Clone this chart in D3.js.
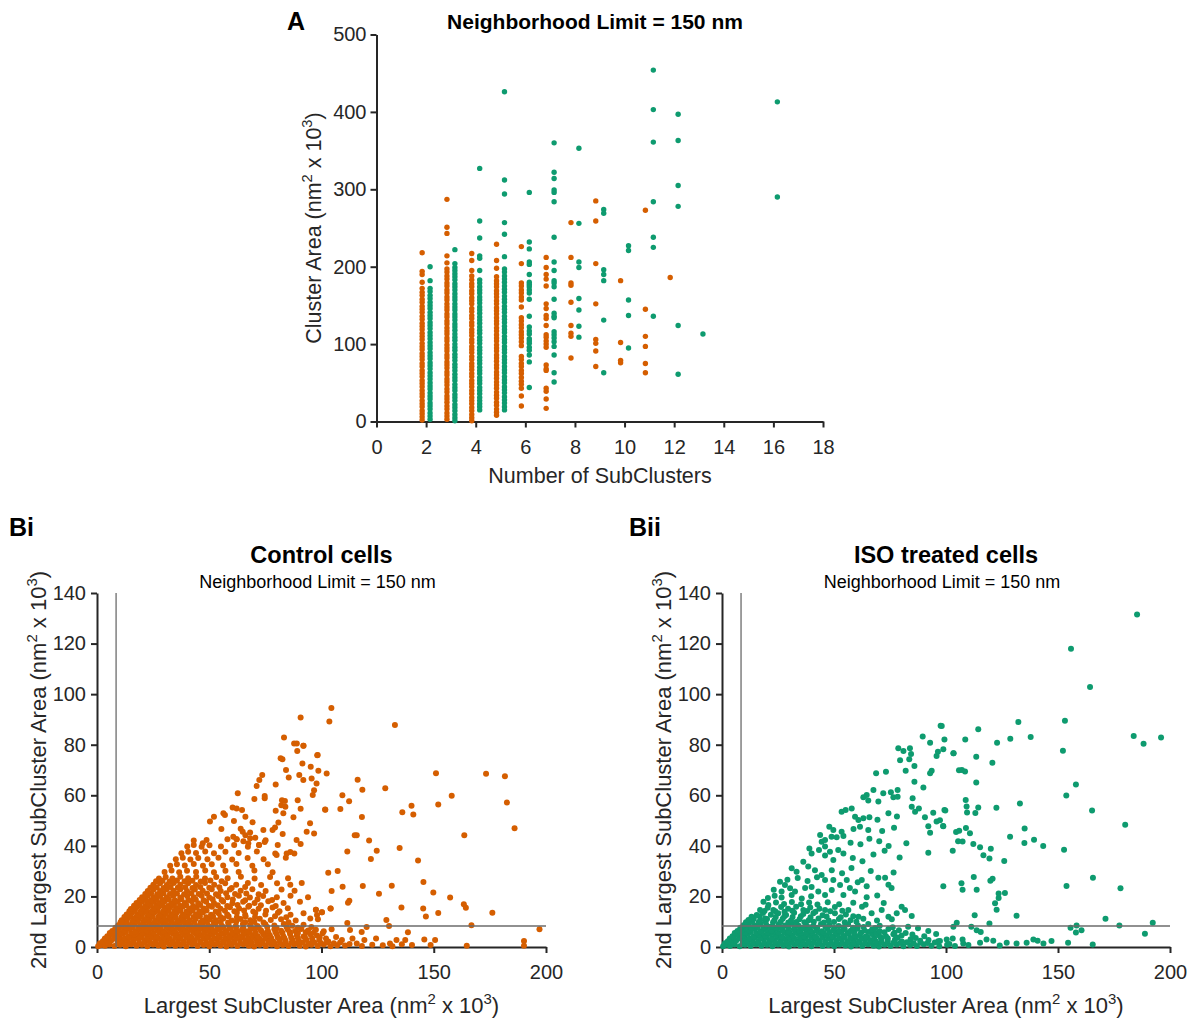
<!DOCTYPE html>
<html><head><meta charset="utf-8">
<script src="https://cdn.jsdelivr.net/npm/d3@7"></script>
<style>body{margin:0;background:#fff}svg{display:block}</style>
</head><body>
<svg id="chart" width="1188" height="1021"></svg>
<script>
// ---------------- DATA ----------------
const subclusterTicks = [0,2,4,6,8,10,12,14,16,18];
const clusterAreaTicks = [0,100,200,300,400,500];
// Panel A: [number of subclusters, cluster areas (nm^2 x 10^3)]
const controlClusterArea = [
 [2,[218,194,190,180,172,167,163,158,154,149,145,141,136,132,127,123,119,114,110,106,101,97,93,88,84,80,75,71,66,62,58,53,49,45,40,36,32,27,23,19,14,10,6,2]],
 [3,[287,251,243,214,205,197,193,188,184,179,175,170,166,161,157,152,148,144,139,135,130,126,121,117,113,108,104,99,95,91,86,82,77,73,69,64,60,55,51,47,42,38,33,29,25,20,16,11,7,3]],
 [4,[217,208,195,188,183,178,174,169,165,160,156,152,146,142,137,133,128,124,119,115,111,106,102,97,93,89,84,80,75,71,67,62,58,53,49,45,40,36,31,27,23,18,14,9,5,1]],
 [5,[229,208,198,187,182,178,174,169,165,161,156,152,147,143,139,134,130,126,121,117,112,108,104,99,95,91,86,82,78,73,69,64,60,56,51,47,43,38,34,30,25,21,16,12,8]],
 [6,[226,204,179,175,170,166,161,157,148,134,130,125,121,116,112,108,103,98,84,80,75,71,66,62,57,52,48,43,33,20]],
 [7,[212,199,190,184,175,152,146,137,133,124,112,109,104,100,96,73,68,66,43,39,29,17]],
 [8,[257,212,179,176,154,124,114,110,82]],
 [9,[285,259,204,152,106,101,91,71]],
 [10,[182,102,79,76]],
 [11,[273,145,110,97,75,63]],
 [12,[186]]
];
const isoClusterArea = [
 [2,[200,182,172,168,163,159,154,150,146,141,137,133,128,124,120,115,111,107,102,98,94,89,85,81,76,72,68,63,59,55,50,46,42,37,33,29,24,20,16,11,7,3]],
 [3,[222,204,199,195,191,187,183,178,174,170,165,161,157,152,148,144,139,135,131,126,122,118,113,109,105,100,96,92,87,83,79,74,70,66,61,57,53,48,44,40,35,31,27,22,18,14,9,5,1]],
 [4,[327,259,237,214,211,195,183,179,174,170,166,161,157,153,148,144,140,135,131,127,122,118,114,109,105,101,96,92,88,83,79,75,70,66,62,57,53,49,44,40,36,31,27,23,19,15]],
 [5,[426,312,294,257,242,213,197,193,188,184,180,175,171,167,162,158,154,149,145,141,136,132,128,123,119,115,110,106,102,97,93,89,84,80,76,71,67,63,58,54,50,45,41,37,32,28,24,19,15]],
 [6,[296,232,223,206,203,190,180,177,174,170,166,158,136,122,117,113,107,104,101,96,92,86,77,44]],
 [7,[360,322,314,299,296,284,238,206,195,182,179,174,158,140,136,134,116,112,108,103,97,86,63,51]],
 [8,[353,256,206,199,159,144,123,109]],
 [9,[274,269,196,190,182,131,63]],
 [10,[227,221,157,137,95]],
 [11,[454,403,361,284,238,225,136]],
 [12,[397,363,305,278,124,61]],
 [13,[113]],
 [16,[413,290]]
];

const largestTicks = [0,50,100,150,200];
const secondTicks = [0,20,40,60,80,100,120,140];
const thresholdLargest = 8.5;
const thresholdSecond = 8.3;

// Panel Bi: [largest subcluster area, 2nd largest subcluster area]
const controlSubclusterAreas = [
 [0.5,0.3],[2,0.8],[3.6,0.5],[5.5,1],[7.8,0.4],[10.3,0.9],[12.8,0.3],[15.2,1.1],[17.6,0.5],[20,0.9],[22.4,0.3],[25,1],[27.3,0.6],[29.8,0.2],[32.4,1],[34.9,0.5],[37.2,0.9],[39.8,0.3],[42.3,1.1],[44.8,0.4],[47.5,0.8],[50,0.3],[52.4,1],[55,0.6],[57.6,0.2],[60,0.9],[62.5,0.4],[65.2,1.1],[67.6,0.5],[70,0.2],[72.5,0.9],[75.2,0.4],[77.8,1],[80.2,0.3],[82.8,0.8],[85.3,0.4],[87.8,1.1],[90.3,0.5],[93,0.2],[95.5,0.9],[98.3,0.4],[101,1],[104,0.3],[107,0.7],
 [1.3,1.5],[4.8,1.7],[9.2,1.6],[11.6,1.8],[14,1.5],[16.4,1.7],[18.8,1.6],[21.2,1.9],[23.8,1.5],[26.2,1.7],[28.6,1.6],[31.1,1.8],[33.7,1.5],[36,1.7],[38.5,1.6],[41,1.9],[43.5,1.5],[46.1,1.7],[48.7,1.6],[51.2,1.8],[53.7,1.5],[56.3,1.7],[58.8,1.6],[61.3,1.9],[63.8,1.5],[66.4,1.7],[68.9,1.6],[71.3,1.8],[73.9,1.5],[76.5,1.7],[79,1.6],[81.5,1.9],[84.1,1.5],[86.6,1.7],[89.1,1.6],[91.7,1.8],[94.3,1.5],[97,1.7],[99.7,1.6],[102.4,1.8],[105.5,1.5],
 [2.6,2.3],[4.2,3],[6.3,2.5],[8.7,3.1],[11,2.4],[13.6,2.9],[16,2.2],[18.6,3.2],[21.1,2.6],[23.5,2.2],[26.1,3],[28.6,2.5],[31,3.2],[33.5,2.3],[36.1,2.8],[38.6,2.2],[41,3.1],[43.6,2.6],[46.1,2.2],[48.5,3],[51,2.5],[53.6,3.2],[56.1,2.3],[58.6,2.8],[61,2.2],[63.5,3.1],[66.1,2.6],[68.6,2.3],[71.1,3],[73.6,2.4],[76.1,2.9],[78.6,2.2],[81.2,3.1],[84,2.5],[87.1,2.8],[90,2.3],[93.2,3],[96.1,2.4],[99,2.9],[103,2.2],
 [3.5,3.4],[5.2,3.8],[7.6,3.6],[9.9,3.9],[12.3,3.5],[14.8,3.8],[17.3,3.6],[19.8,3.9],[22.3,3.5],[24.8,3.8],[27.3,3.6],[29.8,3.9],[32.3,3.5],[34.8,3.8],[37.3,3.6],[39.8,3.9],[42.3,3.5],[44.8,3.8],[47.3,3.6],[49.8,3.9],[52.3,3.5],[54.8,3.8],[57.3,3.6],[59.8,3.9],[62.3,3.5],[64.8,3.8],[67.3,3.6],[69.8,3.9],[72.3,3.5],[74.9,3.8],[77.6,3.6],[80.5,3.9],[83.5,3.5],[86.5,3.8],[89.5,3.6],[92.6,3.9],[95.8,3.5],[99.2,3.8],[102,3.4],
 [4.6,4.3],[6.7,5],[9,4.5],[11.6,5.2],[14,4.2],[16.5,4.9],[19.1,4.4],[21.6,5.1],[24,4.6],[26.6,4.2],[29.1,5],[31.5,4.5],[34,5.2],[36.5,4.3],[39.1,4.8],[41.6,4.2],[44,5.1],[46.6,4.6],[49,4.3],[51.5,5],[54.1,4.4],[56.5,5.2],[59,4.5],[61.6,4.9],[64,4.2],[66.6,5.1],[69.1,4.6],[71.6,4.3],[74.2,5],[77,4.5],[80.1,4.9],[83,4.3],[86,5.1],[89,4.6],[92,4.2],[95,5],[98,4.5],
 [5.7,5.5],[8,5.8],[10.4,5.6],[12.9,5.9],[15.3,5.5],[17.8,5.8],[20.3,5.6],[22.8,5.9],[25.3,5.5],[27.8,5.8],[30.3,5.6],[32.8,5.9],[35.3,5.5],[37.8,5.8],[40.3,5.6],[42.8,5.9],[45.3,5.5],[47.8,5.8],[50.3,5.6],[52.8,5.9],[55.3,5.5],[57.8,5.8],[60.3,5.6],[62.8,5.9],[65.4,5.5],[68,5.8],[70.7,5.6],[73.5,5.9],[76.4,5.5],[79.5,5.8],[82.6,5.6],[85.8,5.9],[89.5,5.5],[93,5.8],[96.5,5.6],[100.5,5.4],
 [6.8,6.3],[9.5,7],[12.1,6.5],[14.5,7.2],[17,6.2],[19.6,6.9],[22,6.4],[24.5,7.1],[27.1,6.6],[29.5,6.2],[32,7],[34.6,6.5],[37,7.2],[39.5,6.3],[42.1,6.8],[44.6,6.2],[47,7.1],[49.6,6.6],[52,6.3],[54.5,7],[57.1,6.4],[59.6,7.2],[62,6.5],[64.6,6.9],[67.1,6.2],[70,7.1],[73,6.6],[76.1,6.3],[79,7],[82,6.4],[85,6.9],[88.2,6.3],[91,7.1],[94,6.5],[97.5,6.8],[101,6.2],[104.5,7],
 [8.2,7.6],[10.8,7.9],[13.3,7.5],[15.8,7.8],[18.3,7.6],[20.8,7.9],[23.3,7.5],[25.8,7.8],[28.3,7.6],[30.8,7.9],[33.3,7.5],[35.8,7.8],[38.3,7.6],[40.8,7.9],[43.3,7.5],[45.8,7.8],[48.4,7.6],[51,7.9],[53.6,7.5],[56.3,7.8],[59,7.6],[62,7.9],[65.2,7.5],[68.5,7.8],[72,7.6],[75.8,7.9],[80,7.5],[84.5,7.8],[89.5,7.6],[95.5,7.9],
 [9.5,8.6],[11.8,9.1],[14.3,8.4],[16.8,9.2],[19.3,8.6],[21.8,8.3],[24.3,9],[26.8,8.5],[29.4,9.2],[31.8,8.4],[34.4,8.9],[36.9,8.3],[39.3,9.1],[41.8,8.6],[44.4,8.3],[47,9],[49.5,8.5],[52.8,9.2],[55.6,8.4],[58.6,8.9],[61.8,8.3],[65,9.1],[68.2,8.6],[71.5,8.3],[75,9],[79,8.5],[83.2,9.1],[87,8.4],[92,8.8],
 [10.5,9.8],[13,9.9],[15.6,9.7],[18.1,10],[20.6,9.8],[23.1,9.9],[25.6,9.7],[28.1,10],[30.6,9.8],[33.1,9.9],[35.6,9.7],[38.1,10],[40.6,9.8],[43.3,9.9],[46.1,9.7],[49,10],[52,9.8],[55.1,9.9],[58.4,9.7],[62,10],[66,9.8],[70.1,9.9],[74.2,9.7],[85.3,9.8],
 [11,10.6],[13.5,11.2],[16,10.5],[18.6,11.1],[21,10.7],[23.6,11.3],[26,10.5],[28.6,11],[31,10.6],[33.6,11.3],[36,10.5],[38.6,11.1],[41.2,10.6],[44,11.2],[47,10.5],[50.2,11],[53,10.6],[56.3,11.3],[60,10.5],[64,11.1],[68.3,10.6],[72.5,11.2],[77.4,10.7],[82,11],[88.5,10.5],[95,11.3],
 [12.2,11.9],[14.8,12.1],[17.3,11.8],[19.8,12.1],[22.3,11.9],[24.8,12.2],[27.3,11.8],[29.8,12.1],[32.3,11.9],[34.9,12.2],[37.5,11.8],[40.2,12.1],[43,11.9],[45.8,12.2],[48.7,11.8],[51.7,12.1],[55,11.9],[58.6,12.2],[62.3,11.8],[66.2,12.1],[70.4,11.9],[79.3,12.2],[84.3,11.8],
 [13.2,12.9],[15.6,13.5],[18,12.8],[20.6,13.4],[23,12.9],[25.6,13.6],[28,12.8],[30.6,13.3],[33.1,12.9],[35.6,13.6],[38.2,12.8],[41,13.3],[44.1,12.9],[47.2,13.6],[50.8,12.8],[54.2,13.3],[58,12.9],[62.3,13.5],[66,12.8],[70.5,13.4],[75,12.9],[80.6,13.5],[86.2,12.8],[92,13.3],[98,12.7],
 [14.4,14.1],[16.9,14.3],[19.4,14],[21.9,14.3],[24.4,14.1],[26.9,14.4],[29.4,14],[31.9,14.3],[34.5,14.1],[37.1,14.4],[39.8,14],[42.6,14.3],[45.6,14.1],[48.8,14.4],[52.9,14],[57,14.3],[61.2,14.1],[65.5,14.4],[69.6,14],[75.3,14.3],[81.3,14.1],
 [15.1,15],[17.6,15.7],[20.1,15.1],[22.6,15.8],[25.1,15.2],[27.6,15.9],[30.1,15.1],[32.6,15.7],[35.2,15.2],[38.1,15.9],[41.1,15.1],[44.2,15.6],[47.6,15.2],[51.2,15.9],[55,15.1],[59.2,15.7],[63.3,15.2],[67.4,15.9],[72,15.1],[78.2,15.6],[85,15.3],[97.5,14.7],[100.2,13.7],[104,15.2],
 [16.5,16.3],[19,16.5],[21.5,16.2],[24,16.6],[26.5,16.3],[29,16.5],[31.6,16.2],[34.3,16.6],[37,16.3],[39.8,16.5],[42.8,16.2],[46,16.6],[49.8,16.3],[53.8,16.5],[58,16.2],[62.6,16.6],[67.8,16.3],[73,16.5],[79.6,16.2],
 [17.6,17.4],[20.1,18],[22.6,17.3],[25.2,18],[27.6,17.4],[30.2,18.1],[33.1,17.3],[36,17.9],[39.1,17.4],[42.2,18.1],[45.1,17.3],[48.6,17.9],[52.1,17.4],[56.2,18],[60.3,17.3],[65.1,17.9],[70.2,17.4],[76.3,18.1],[83.1,17.4],[90.4,17.9],
 [19,18.6],[21.5,18.8],[24,18.5],[26.6,18.9],[29.3,18.6],[32,18.8],[34.7,18.5],[37.6,18.9],[40.7,18.6],[44,18.8],[47.5,18.5],[51.5,18.9],[55.5,18.6],[60.5,18.8],[66,18.5],[71.5,18.9],[78,18.6],
 [20.1,19.7],[22.6,20.3],[25.2,19.6],[28.1,20.2],[31,19.7],[34,20.3],[37.1,19.6],[40.2,20.2],[43.1,19.7],[46.6,20.3],[50,19.6],[54.1,20.2],[58.1,19.7],[63.2,20.3],[68.1,19.6],[74,20.2],[80.1,19.7],[86.2,20.3],[94,19.7],
 [21.5,21],[24.1,21.2],[26.8,20.9],[29.6,21.3],[32.5,21],[35.6,21.2],[38.8,20.9],[42,21.3],[45.3,21],[49,21.2],[53,20.9],[57.5,21.3],[61.5,21],[66.5,21.2],[72,20.9],
 [22.6,22.1],[25.2,22.7],[28.1,22.1],[31.1,22.8],[34,22.2],[37.1,22.8],[40.1,22.1],[43.6,22.7],[47.1,22.2],[51.1,22.8],[55.1,22.1],[59.2,22.7],[64,22.2],[69.2,22.8],[75.1,22.1],[82.2,22.7],[88,22.2],
 [23.8,23.4],[26.6,23.6],[29.6,23.3],[32.8,23.7],[36,23.4],[39.3,23.6],[42.5,23.3],[46,23.7],[50,23.4],[54.5,23.6],[60,23.3],[66,23.7],
 [25.1,24.6],[28.1,25.2],[31.1,24.5],[34.2,25.3],[37.1,24.6],[40.6,25.2],[44.1,24.5],[48.1,25.3],[52.2,24.6],[57.1,25.2],[62,24.6],[67.2,25.3],[73.1,24.5],[80.2,25.2],[86.1,24.6],[91.2,25.3],
 [26.3,26],[29.2,26.2],[32.3,25.9],[35.6,26.3],[39,26],[42.5,26.2],[46.2,25.9],[50.5,26.3],[55.5,26],
 [27.6,27.1],[30.6,27.7],[33.6,27.1],[37.1,27.8],[40.6,27.2],[44.2,27.8],[48.1,27.1],[53.1,27.7],[58.2,27.2],[64.1,27.8],[70.2,27.1],[77.1,27.7],[85.1,27.2],
 [30.1,29.7],[33.2,30.3],[36.6,29.6],[40.1,30.2],[44.1,29.7],[48.2,30.3],[52.1,29.6],[57.2,30.2],[63.1,29.7],[70.1,30.3],[78.2,29.6],
 [32.6,32.1],[35.6,32.7],[39.1,32.2],[43.1,32.8],[47.2,32.1],[51.1,32.7],[56.2,32.2],[62.1,32.8],[69.2,32.1],[76.1,32.7],
 [35.1,34.7],[38.2,35.3],[41.6,34.6],[45.1,35.2],[49.2,34.7],[54.1,35.3],[60.2,34.6],[67.1,35.2],[74.2,34.7],[84.1,35.3],
 [37.6,37.1],[40.6,37.7],[44.1,37.2],[48.2,37.8],[52.1,37.1],[57.2,37.7],[63.1,37.2],[71.2,37.8],[79.4,37],[86.1,37.6],[87.9,37],
 [40.2,39.7],[43.1,40.3],[46.6,39.6],[50.1,40.2],[55.2,39.7],[61.1,40.3],[67.2,39.6],[72.2,40.3],[80.5,40.3],
 [43.1,42.1],[47.1,41],[48.8,42.3],[58.1,42.6],[62.2,42.6],[65.2,41.8],[75.1,42.2],[88.9,42.3],[90.7,40.7],[74.7,41.5],
 [90.7,90.8],[103.5,89.2],[104.4,94.5],[83.3,82.9],[87.8,80.5],[89,80.5],[91.9,79.6],[89.2,77.5],[81.8,74.6],[82.6,74.3],[98.3,75.9],[91.5,72.6],[95.2,71.3],[84.2,70],[98.6,69.7],[90.1,68],[85.4,67],[95.6,66.6],[73.6,68],[72.3,66],[71.1,63.7],[79.6,64.3],[91.9,66],[97.8,64.7],[96.7,62],[96.1,60.1],[62.7,60.8],[74.7,59.7],[74.7,58.8],[70.1,58.5],[82.4,58],[83.7,57.7],[89.4,58],[101.6,54.4],[60.4,55.2],[62.2,54.8],[64.6,54.2],[66.1,51.5],[56.3,52.9],[57,52.2],[52.1,51.5],[50.3,49.6],[61,49.8],[69.3,49.3],[79.6,53.9],[83,52.9],[87.5,51.3],[90.7,54.7],[83.9,55.5],[82.1,56.1],[80.8,49.2],[79.3,47.3],[78.2,46.3],[55.4,46.7],[64,46.8],[64.9,45.6],[68.2,45.3],[94.9,48.9],[96.7,44.9],[93.4,45.6],[74.1,46.3],[82.7,44.7],[70.5,43.2],[68.2,43],[67.4,41],[60.7,43.6],[62.2,42.6],[66.1,44.2],[84.5,37],[80,36.4],[72.2,40.3],
 [132.7,87.8],[92,79.6],[98.1,75.8],[102.3,68.6],[116.1,66.1],[151,68.7],[173.3,68.5],[181.7,67.5],[118.2,62.2],[128.4,62.8],[109.3,60],[112.3,57.6],[108.4,54.6],[101.7,54.3],[158,59.8],[152,56.4],[182.6,57.1],[140.1,55.9],[136,53.3],[140.9,52.4],[118,51.4],[186,47],[163.6,44.2],[114.8,44.2],[115.7,44.2],[121.2,42.1],[134.8,39.2],[124.6,38.1],[122,34.8],[111.5,37.8],[143,34.2],[103,29.4],[107.2,30.1],[145.4,25.7],[149.8,21.6],[157.3,19.6],[109.4,23.8],[104.5,22.1],[118.4,24.1],[131.3,24.2],[125.6,21.1],[112.4,18.3],[111.8,17.5],[135.6,15.6],[145.3,15.2],[146.5,12.1],[152,13.4],[163.4,16.9],[164.3,15.5],[176.1,13.5],[104.1,15.2],[100.2,13.7],[98.4,11],[97.5,14.7],[166.8,8.6],[197.1,7],[128.9,10.7],[130.1,8.3],[111.5,9.5],[112.7,6.7],[120.1,7.9],[117.9,5.9],[138.5,5.8],
 [109.1,2.8],[113.8,3.4],[115.7,1.4],[119.1,2.8],[124.3,3.4],[130.5,1.4],[133.4,2.8],[137.3,2.8],[140.3,0.8],[145.8,3],[148.6,0.8],[150.6,2.8],[164.7,0.5],[190.2,2.4],[190.2,0.5],[110.5,0.6],[112.5,1.2],[118,0.4],[122.6,0.9],[127.3,0.7],[131.6,0.3],[135.8,1.1],[106.5,4],[108.3,1.8]
];

// Panel Bii: [largest subcluster area, 2nd largest subcluster area]
const isoSubclusterAreas = [
 [0.5,0.3],[2,0.9],[3.6,0.4],[5.6,1],[7.9,0.3],[10.3,0.9],[12.8,0.4],[15.3,1.1],[17.6,0.5],[20.1,0.9],[22.5,0.3],[25,1],[27.4,0.6],[29.9,0.2],[32.4,1],[35,0.5],[37.3,0.9],[39.9,0.3],[42.4,1.1],[44.9,0.4],[47.5,0.8],[50.1,0.3],[52.5,1],[55.1,0.6],[57.6,0.2],[60.1,0.9],[62.6,0.4],[65.2,1.1],[67.7,0.5],[70.1,0.2],[72.6,0.9],[75.3,0.4],[78,1],[81,0.3],[84,0.8],[87,0.4],[90.1,1.1],[93.5,0.5],[97,0.3],[100.5,0.9],[104,0.4],
 [1.3,1.5],[4.8,1.7],[9.2,1.6],[11.6,1.8],[14,1.5],[16.4,1.7],[18.8,1.6],[21.2,1.9],[23.8,1.5],[26.2,1.7],[28.6,1.6],[31.1,1.8],[33.7,1.5],[36,1.7],[38.5,1.6],[41,1.9],[43.5,1.5],[46.1,1.7],[48.7,1.6],[51.2,1.8],[53.7,1.5],[56.3,1.7],[58.8,1.6],[61.3,1.9],[63.8,1.5],[66.4,1.7],[68.9,1.6],[71.3,1.8],[73.9,1.5],[76.5,1.7],[79.5,1.6],[82.5,1.9],[85.6,1.5],[88.6,1.7],[91.8,1.6],[95,1.8],
 [2.6,2.3],[4.3,3],[6.3,2.5],[8.8,3.1],[11.1,2.4],[13.6,2.9],[16.1,2.2],[18.6,3.2],[21.1,2.6],[23.6,2.2],[26.1,3],[28.6,2.5],[31.1,3.2],[33.6,2.3],[36.1,2.8],[38.6,2.2],[41.1,3.1],[43.6,2.6],[46.1,2.2],[48.6,3],[51.1,2.5],[53.6,3.2],[56.1,2.3],[58.6,2.8],[61.1,2.2],[63.6,3.1],[66.1,2.6],[68.7,2.3],[71.2,3],[74,2.4],[77.2,2.9],[80.3,2.2],[84.2,3.1],[88.5,2.5],[92.2,2.8],[96.5,2.3],
 [3.5,3.4],[5.2,3.8],[7.6,3.6],[9.9,3.9],[12.3,3.5],[14.8,3.8],[17.3,3.6],[19.8,3.9],[22.3,3.5],[24.8,3.8],[27.3,3.6],[29.8,3.9],[32.3,3.5],[34.8,3.8],[37.3,3.6],[39.8,3.9],[42.3,3.5],[44.8,3.8],[47.3,3.6],[49.8,3.9],[52.3,3.5],[54.8,3.8],[57.3,3.6],[59.8,3.9],[62.4,3.5],[65.1,3.8],[67.9,3.6],[70.8,3.9],[74,3.5],[78.5,3.8],[86.5,3.6],
 [4.7,4.3],[6.8,5],[9.1,4.5],[11.6,5.2],[14.1,4.2],[16.6,4.9],[19.1,4.4],[21.6,5.1],[24.1,4.6],[26.6,4.2],[29.1,5],[31.6,4.5],[34.1,5.2],[36.6,4.3],[39.1,4.8],[41.6,4.2],[44.1,5.1],[46.6,4.6],[49.1,4.3],[51.6,5],[54.1,4.4],[56.6,5.2],[59.1,4.5],[61.6,4.9],[64.2,4.2],[67,5.1],[70,4.6],[73.2,4.3],[76.5,5],[80.2,4.5],[85,4.9],[90.3,4.3],[95.6,5.1],
 [5.7,5.5],[8,5.8],[10.4,5.6],[12.9,5.9],[15.3,5.5],[17.8,5.8],[20.3,5.6],[22.8,5.9],[25.3,5.5],[27.8,5.8],[30.3,5.6],[32.8,5.9],[35.3,5.5],[37.8,5.8],[40.3,5.6],[42.8,5.9],[45.4,5.5],[48,5.8],[50.7,5.6],[53.4,5.9],[56.1,5.5],[59,5.8],[62.1,5.6],[65.3,5.9],[68.7,5.5],[72.5,5.8],[77,5.6],[82,5.5],
 [6.9,6.3],[9.5,7],[12.1,6.5],[14.6,7.2],[17.1,6.2],[19.6,6.9],[22.1,6.4],[24.6,7.1],[27.1,6.6],[29.6,6.2],[32.1,7],[34.6,6.5],[37.1,7.2],[39.6,6.3],[42.1,6.8],[44.6,6.2],[47.1,7.1],[49.7,6.6],[52.2,6.3],[54.8,7],[57.5,6.4],[60.5,7.2],[63.6,6.5],[67,6.9],[70.4,6.2],[74.3,7.1],[79,6.6],[83.1,8],[87.5,7.4],[92.1,6.3],
 [8.2,7.6],[10.8,7.9],[13.3,7.5],[15.9,7.8],[18.5,7.6],[21.2,7.9],[23.9,7.5],[26.7,7.8],[29.6,7.6],[32.6,7.9],[35.8,7.5],[39.1,7.8],[42.5,7.6],[46.2,7.9],[50.1,7.5],[54.2,7.8],[58.5,7.6],[63.2,7.9],[68.4,7.5],[76.2,7.8],
 [9.6,8.6],[12,9.1],[14.6,8.4],[17.2,9.2],[19.8,8.6],[22.5,8.3],[25.3,9],[28.2,8.5],[31.1,9.2],[34.2,8.4],[37.5,8.9],[40.8,8.3],[44.2,9.1],[48,8.6],[52.1,8.3],[56.3,9],[60.7,8.5],[65.3,9.1],[70.4,8.4],
 [10.7,9.8],[13.5,10],[16.3,9.7],[19.5,9.9],[22.8,9.8],[26.2,10],[29.6,9.7],[33.2,9.9],[36.8,9.8],[41,10],[45.5,9.7],[50,9.9],[54.8,9.8],[60,10],
 [11.8,10.7],[14.2,11.2],[17,10.5],[20.1,11.1],[23.4,10.6],[27.1,11.2],[30.8,10.5],[34.6,11],[38.7,10.6],[43.1,11.3],[47.6,10.5],[52.2,11.1],[57.4,10.6],[63.1,11.2],[69.2,10.5],[75.8,11],
 [13.2,12],[16.8,12.2],[24,11.9],[27.8,12.1],[31.5,11.9],[35.2,12.2],[39.5,11.8],[46.7,12.1],[53,11.8],[58.6,12.2],
 [15.5,12.7],[19.2,11.3],[18.3,13.4],[21.8,12.8],[25.1,13.3],[28.6,12.7],[32.2,13.5],[36.3,13.1],[40.8,13.3],[44.9,12.6],[50.4,13.3],[55.3,12.9],[60.9,12],[66.8,13.3],[71.3,14.6],[74.3,12],[78,13.3],[84.7,12.3],
 [19,14.2],[23.8,14.1],[27.9,13.9],[31.4,14.3],[38,14.2],[41.7,13.9],[48.3,14.1],[53.7,14.3],
 [17,14.6],[20.4,15.5],[22.9,14.6],[26.4,15.8],[29.5,15.1],[33.1,15.9],[36.3,14.6],[39.4,15.6],[43.5,15.1],[46,14.6],[50.4,15.8],[56.4,14.6],[62.5,15.9],[80.2,15.9],[81.7,14.6],
 [18.5,17.9],[20.7,16.6],[24.1,17.6],[27.7,17],[31.2,17.8],[35.3,16.9],[38.9,17.6],[42.6,16.8],[47.2,17.7],[52.3,16.9],[58.6,17.5],[64.1,16.7],[72.2,17.4],
 [20.5,19.4],[23.5,20.3],[26.6,19.6],[31.1,20.6],[35.6,19.2],[39.8,20.1],[43,21.9],[46,20.6],[49,22.5],[54.2,20.6],[59.4,21.9],[64.6,19.7],[69.3,20.4],
 [23.1,22.6],[26.6,21.9],[28.1,24.5],[30.4,23.2],[32.6,21.9],[37.1,23.3],[40,23.7],[52.7,24.5],[57.1,23.3],[64.6,24],[74.3,24.6],[75.7,23.3],
 [25.9,25.8],[29.2,26.6],[33.8,27.3],[38.2,26.1],[42.4,27.6],[46,26.5],[49.7,26.5],[55.7,26.5],[62.4,26.5],[69.8,27.4],[72.8,27.4],[60.6,25.6],
 [31.1,31.1],[33.3,29.8],[38.5,31.8],[41.5,30.4],[44.5,28.5],[49,30.4],[53.6,29.2],[57.8,31.2],[66.4,30.1],[76.6,29.5],
 [36.3,33.7],[40,37],[43.3,38.4],[46,36.2],[48.2,37.7],[49.7,34.4],[51.9,38.4],[54.2,37],[58.4,35.2],[62.7,33.9],[67.6,36.6],[72.6,38.1],[79.3,35.4],
 [39,39],[44.5,41.6],[46,39.7],[46,42.3],[43.8,44.3],[48.9,43.6],[51.2,43.4],[54.2,43.9],[57.4,41.2],[61.8,40.6],[65.8,42.8],[70.2,41.8],[74.4,39.9],[82.3,41],
 [47.9,47.6],[49.7,46.3],[53.4,45.6],[61.6,47.6],[65.3,46.3],[58.7,46.7],[71.5,45.9],[76.8,47.2],[92.1,47.8],[98.8,47.8],[92.9,45.2],[92.1,37.3],
 [55.2,54.2],[57.9,54.8],[59.4,51.5],[53.4,53.5],[60.9,50.2],[63.1,50.9],[65.8,51.3],[74.3,52.9],[85.1,58.8],[84.7,55.5],[86.2,53.5],[87.9,54.8],[99.3,54.2],[90.6,51.3],[94.3,53.1],[95.8,49.6],[69.4,50.3],[78.1,51.6],
 [67.6,62.1],[64.6,60.1],[63.1,59.2],[65.3,57.9],[69.8,57.5],[72,60.8],[75.4,61.2],[78.4,62.1],[76.5,59.2],[78.4,59.4],[89.9,63.1],[85.9,65.4],
 [68.8,68.7],[73.2,69.3],[82,69.7],[93.6,69.7],[92.9,68.7],[78.7,78.6],[81,77.5],[83.9,78.6],[79.5,73.9],[83.6,74.3],[84.4,76.3],[85.9,71.6],[96.4,77.2],[95.8,75.5],[103.3,76.6],[97.6,87.5],[99.3,82.1],[98.8,78.2],[89.6,83.2],[92.9,80.8],
 [185.3,131.5],[155.8,118],[164.3,102.8],[153.1,89.5],[132.3,89],[114.4,86.1],[183.8,83.4],[188.2,80.4],[196,82.9],[152.2,77.6],[137.8,83.1],[128.7,82.4],[122.8,80.8],[98.1,87.4],[108.6,82.1],[103.4,76.6],[113.5,75.2],[120.7,72.9],[105.8,69.9],[107.1,70],[108.5,69.4],[113.5,65.1],[158,64.3],[153.7,59.9],[133,56.8],[108.8,58.1],[109.2,55.6],[109.4,53.2],[113.1,53],[114.4,55.2],[122.5,55.1],[99.7,54],[97.3,50.1],[98.7,47.9],[165.2,54],[180,48.3],[135.1,46.9],[128.6,43.6],[135,41.1],[139.3,42.4],[143.4,39.9],[104.5,45.5],[105.9,46],[108.9,47.1],[110.7,45],[105.4,41.8],[107.4,41.7],[112.2,40.7],[115.2,39.4],[116.7,36.3],[120,38.9],[119.4,35],[126,34],[103,38.1],[152.7,38.5],[98.8,24],[106.9,25.2],[107.4,22.6],[113.7,22.6],[112.4,27.7],[119.8,26.2],[120.8,27],[153.8,24.1],[165.6,27.4],[177.9,23.2],[123.5,21.2],[126.3,21.4],[123.5,19.4],[121.9,17.3],[122.6,14.7],[112.8,12.6],[131.5,12.4],[171.2,11.2],[192.3,9.6],[104.8,9.6],[103.3,8],[119.4,9.3],[111.3,8],[113.7,6.6],[115.5,5.9],[155.6,7.6],[158.3,8.5],[160.5,6.6],[158,5.7],[177.4,8.5],[188.8,5.2],
 [97.3,2.4],[100.3,3],[103,3.4],[107.4,3],[107.7,1.4],[115.2,1.7],[118.1,3],[121.1,2.5],[127.1,1.7],[131.5,1.4],[136,1.7],[139,3],[140.9,2.5],[143.5,1.4],[147.1,2.4],[154.5,1.7],[165.5,1],[110,0.8],[124,0.6],[101.5,1.2]
];

// ---------------- DRAWING ----------------
const FONT = "'Liberation Sans', Arial, Helvetica, sans-serif";
const AXC = '#262626';
const ORANGE = '#d55e00';
const GREEN = '#0e9b6f';
const svg = d3.select('#chart');

function styleAxis(g, fs) {
  g.attr('font-family', null).attr('font-size', null);
  g.select('.domain').attr('stroke', AXC).attr('stroke-width', 2);
  g.selectAll('.tick line').attr('stroke', AXC).attr('stroke-width', 2);
  g.selectAll('.tick text').attr('fill', AXC).style('font-family', FONT).style('font-size', fs + 'px');
}
function drawAxes(x, y, xticks, yticks, o) {
  const gx = svg.append('g').attr('transform', `translate(0,${y(0)})`)
    .call(d3.axisBottom(x).tickValues(xticks).tickSize(6).tickSizeOuter(0).tickPadding(o.xpad));
  const gy = svg.append('g').attr('transform', `translate(${x(0)},0)`)
    .call(d3.axisLeft(y).tickValues(yticks).tickSize(6).tickSizeOuter(0).tickPadding(o.ypad));
  styleAxis(gx, o.fs); styleAxis(gy, o.fs);
}
function supText(parent, x, y, parts, fs, rotate) {
  const t = parent.append('text').attr('text-anchor', 'middle').attr('fill', AXC)
    .style('font-family', FONT).style('font-size', fs + 'px');
  if (rotate) t.attr('transform', `translate(${x},${y}) rotate(-90)`);
  else t.attr('transform', `translate(${x},${y})`);
  let shifted = false;
  parts.forEach(p => {
    const sup = typeof p !== 'string';
    const s = t.append('tspan').text(sup ? p.sup : p);
    if (sup) { s.style('font-size', (fs * 0.68) + 'px').attr('dy', -fs * 0.42); shifted = true; }
    else if (shifted) { s.attr('dy', fs * 0.42); shifted = false; }
  });
  return t;
}
function plainText(x, y, str, fs, bold, anchor) {
  return svg.append('text').attr('x', x).attr('y', y).attr('text-anchor', anchor || 'middle')
    .attr('fill', '#000').style('font-family', FONT).style('font-size', fs + 'px')
    .style('font-weight', bold ? 'bold' : 'normal').text(str);
}

// ---- Panel A ----
const xA = d3.scaleLinear().domain([0, 18]).range([376.5, 823]);
const yA = d3.scaleLinear().domain([0, 500]).range([421.5, 34.5]);
const seriesOffset = 0.16;
drawAxes(xA, yA, subclusterTicks, clusterAreaTicks, {xpad: 12, ypad: 4, fs: 20});
function flat(rows, off) {
  const out = [];
  rows.forEach(([n, vals]) => vals.forEach(v => out.push([n + off, v])));
  return out;
}
svg.append('g').selectAll('circle').data(flat(controlClusterArea, -seriesOffset)).join('circle')
  .attr('cx', d => xA(d[0])).attr('cy', d => yA(d[1])).attr('r', 2.7).attr('fill', ORANGE);
svg.append('g').selectAll('circle').data(flat(isoClusterArea, seriesOffset)).join('circle')
  .attr('cx', d => xA(d[0])).attr('cy', d => yA(d[1])).attr('r', 2.7).attr('fill', GREEN);
plainText(595, 29, 'Neighborhood Limit = 150 nm', 21, true);
plainText(287, 30, 'A', 25, true, 'start');
supText(svg, 600, 483, ['Number of SubClusters'], 21.5, false);
supText(svg, 321, 228, ['Cluster Area (nm', {sup: '2'}, ' x 10', {sup: '3'}, ')'], 21.5, true);

// ---- Panels B ----
function panelB(x0, x1, data, color, title, letter, letterX) {
  const x = d3.scaleLinear().domain([0, 200]).range([x0, x1]);
  const y = d3.scaleLinear().domain([0, 140]).range([947, 593]);
  drawAxes(x, y, largestTicks, secondTicks, {xpad: 12, ypad: 5, fs: 20});
  svg.append('g').selectAll('circle').data(data).join('circle')
    .attr('cx', d => x(d[0])).attr('cy', d => y(d[1])).attr('r', 3.0).attr('fill', color);
  svg.append('line').attr('x1', x(thresholdLargest)).attr('x2', x(thresholdLargest))
    .attr('y1', y(0)).attr('y2', y(140)).attr('stroke', '#6b6b6b').attr('stroke-width', 1.3);
  svg.append('line').attr('x1', x(0)).attr('x2', x(200))
    .attr('y1', y(thresholdSecond)).attr('y2', y(thresholdSecond)).attr('stroke', '#6b6b6b').attr('stroke-width', 1.3);
  const cx = (x0 + x1) / 2;
  plainText(cx, 563, title, 23.5, true);
  plainText(cx - 4, 588, 'Neighborhood Limit = 150 nm', 18, false);
  plainText(letterX, 536, letter, 25, true, 'start');
  supText(svg, cx, 1013, ['Largest SubCluster Area (nm', {sup: '2'}, ' x 10', {sup: '3'}, ')'], 22, false);
  supText(svg, x0 - 51, 770, ['2nd Largest SubCluster Area (nm', {sup: '2'}, ' x 10', {sup: '3'}, ')'], 22, true);
}
panelB(97, 546, controlSubclusterAreas, ORANGE, 'Control cells', 'Bi', 9);
panelB(722, 1170, isoSubclusterAreas, GREEN, 'ISO treated cells', 'Bii', 629);
</script>
</body></html>
